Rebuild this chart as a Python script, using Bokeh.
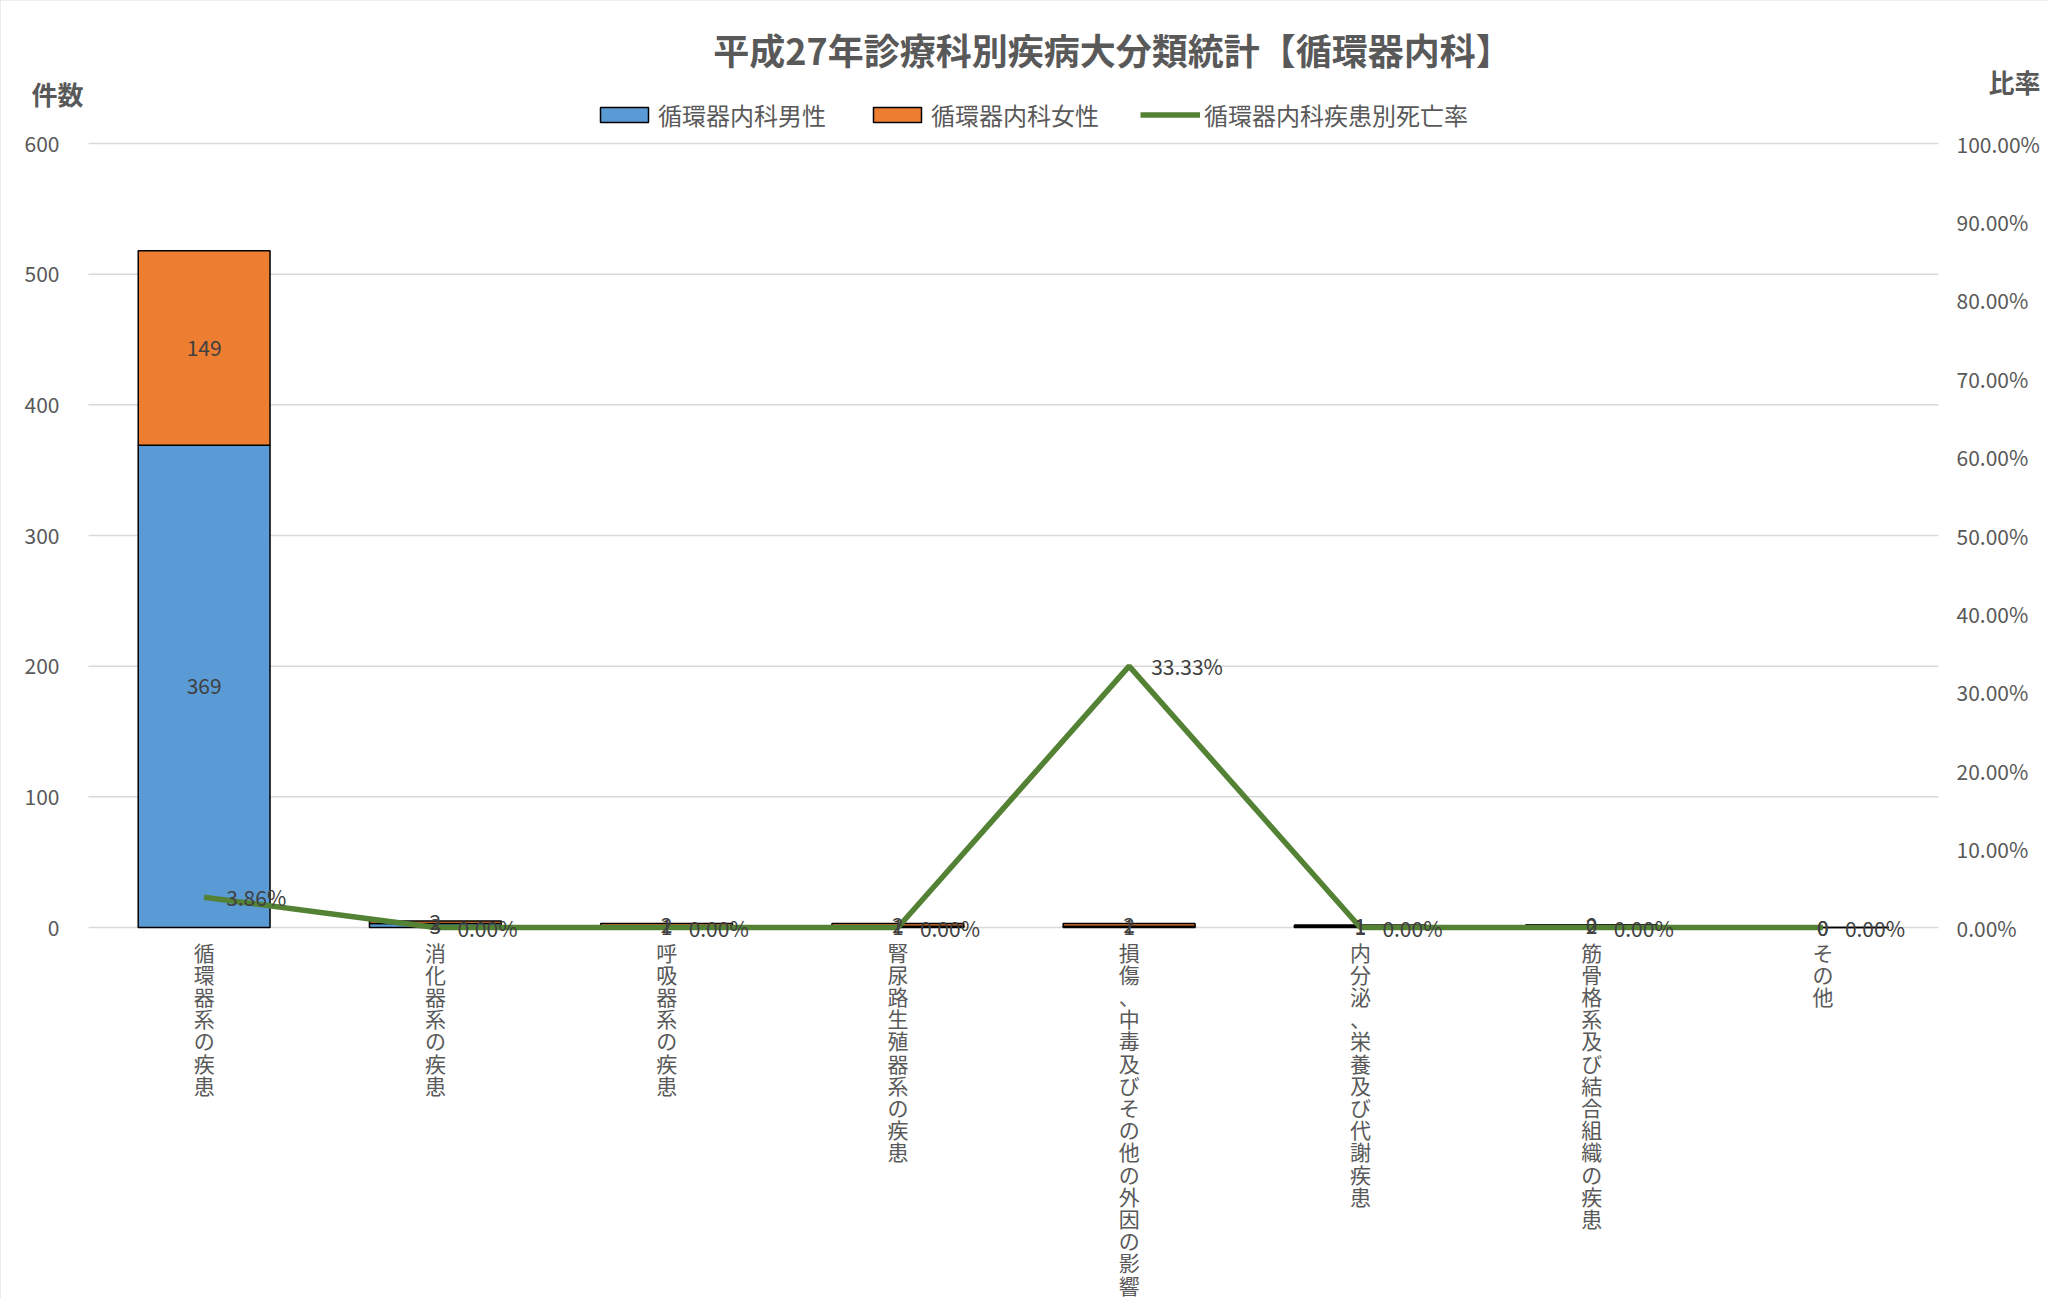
from bokeh.plotting import figure
from bokeh.models import (ColumnDataSource, Range1d, LabelSet, Label, Legend, LegendItem)
from bokeh.embed import file_html
from bokeh.resources import INLINE
from bokeh.core.properties import value

title_text = "平成27年診療科別疾病大分類統計【循環器内科】"
categories = ["循環器系の疾患", "消化器系の疾患", "呼吸器系の疾患", "腎尿路生殖器系の疾患",
              "損傷、中毒及びその他の外因の影響", "内分泌、栄養及び代謝疾患",
              "筋骨格系及び結合組織の疾患", "その他"]
male = [369, 3, 1, 1, 1, 1, 2, 0]
female = [149, 2, 2, 2, 2, 1, 0, 0]
rate = [0.0386, 0.0, 0.0, 0.0, 0.3333, 0.0, 0.0, 0.0]
series_names = ["循環器内科男性", "循環器内科女性", "循環器内科疾患別死亡率"]
left_ticks = [0, 100, 200, 300, 400, 500, 600]
right_ticks = [0.0, 0.1, 0.2, 0.3, 0.4, 0.5, 0.6, 0.7, 0.8, 0.9, 1.0]
left_axis_name = "件数"
right_axis_name = "比率"

FONT = "Noto Sans CJK JP"
GREY = "#595959"
W, H = 2048, 1298
# plot-area edges in figure pixels (the frame itself spans the whole canvas)
FL, FT, FR, FB = 88, 143, 1938, 927
n = len(categories)
YMAX = left_ticks[-1]
PX = (FR - FL) / n
PY = (FB - FT) / YMAX
x0, x1 = -0.5 - FL / PX, n - 0.5 + (W - FR) / PX
y0, y1 = -(H - FB) / PY, YMAX + FT / PY
rscale = right_ticks[-1] / YMAX

def dx(px):
    return -0.5 + (px - FL) / PX

def dy(py):
    return (FB - py) / PY

xs = list(range(n))
src = ColumnDataSource(dict(
    x=xs, male=male, female=female, rate=rate,
    male_mid=[m / 2 for m in male],
    female_mid=[m + f / 2 for m, f in zip(male, female)],
    male_lbl=[str(v) for v in male], female_lbl=[str(v) for v in female],
    rate_lbl=[f"{r*100:.2f}%" for r in rate],
    cat_v=["\n".join(c) for c in categories],
    cat_y=[dy(FB + 9)] * n,
))
lt = ColumnDataSource(dict(y=left_ticks, x=[-0.5] * len(left_ticks),
                           xe=[n - 0.5] * len(left_ticks),
                           lbl=[str(t) for t in left_ticks]))
rt = ColumnDataSource(dict(y=right_ticks, x=[n - 0.5] * len(right_ticks),
                           lbl=[f"{t*100:.2f}%" for t in right_ticks]))

p = figure(x_range=Range1d(x0, x1), y_range=Range1d(y0, y1), width=W, height=H,
           output_backend="svg", toolbar_location=None,
           x_axis_location=None, y_axis_location=None,
           min_border=0, min_border_left=0, min_border_right=0,
           min_border_top=0, min_border_bottom=0,
           styles={"outline": "1px solid #d9d9d9", "outline-offset": "-1px"})
p.extra_y_ranges = {"rate": Range1d(y0 * rscale, y1 * rscale)}
p.outline_line_color = None
p.background_fill_color = "white"
p.border_fill_color = "white"
p.xgrid.visible = False
p.ygrid.visible = False

# gridlines at the left-axis ticks
p.segment(x0="x", x1="xe", y0="y", y1="y", source=lt, line_color="#d9d9d9", line_width=1.5)

bars = p.vbar_stack(["male", "female"], x="x", width=0.57, source=src,
                    color=["#5B9BD5", "#ED7D31"], line_color="black", line_width=1.5)
ln = p.line(x="x", y="rate", source=src, y_range_name="rate",
            line_color="#548235", line_width=5.5)

for ycol, tcol in [("male_mid", "male_lbl"), ("female_mid", "female_lbl")]:
    p.add_layout(LabelSet(x="x", y=ycol, text=tcol, source=src,
                          text_align="center", text_baseline="middle",
                          text_font=value(FONT), text_font_size="21px",
                          text_color="#404040"))
p.add_layout(LabelSet(x="x", y="rate", text="rate_lbl", source=src, y_range_name="rate",
                      x_offset=22, text_align="left", text_baseline="middle",
                      text_font=value(FONT), text_font_size="21px", text_color="#404040"))

# axis tick labels
p.add_layout(LabelSet(x="x", y="y", text="lbl", source=lt, x_offset=-29,
                      text_align="right", text_baseline="middle",
                      text_font=value(FONT), text_font_size="21px", text_color=GREY))
p.add_layout(LabelSet(x="x", y="y", text="lbl", source=rt, y_range_name="rate", x_offset=18,
                      text_align="left", text_baseline="middle",
                      text_font=value(FONT), text_font_size="21px", text_color=GREY))

# category labels, stacked vertically
p.text(x="x", y="cat_y", text="cat_v", source=src, text_align="center",
       text_baseline="top", text_line_height=0.74, text_font=value(FONT),
       text_font_size="21px", text_color=GREY)

legend_h = 32
legend = Legend(items=[LegendItem(label=series_names[0], renderers=[bars[0]]),
                       LegendItem(label=series_names[1], renderers=[bars[1]]),
                       LegendItem(label=series_names[2], renderers=[ln])],
                orientation="horizontal",
                location=(594, H - 116 - legend_h // 2),
                glyph_width=60, glyph_height=19, label_standoff=4, spacing=41,
                padding=0, margin=0, border_line_color=None, background_fill_alpha=0,
                label_text_font=FONT, label_text_font_size="24px",
                label_text_color=GREY)
p.add_layout(legend, "center")

def add_label(px, py, text, size, align="center"):
    p.add_layout(Label(x=dx(px), y=dy(py), text=text,
                       text_align=align, text_baseline="middle", text_font=FONT,
                       text_font_size=size, text_color=GREY, text_font_style="bold"))

add_label(1112, 48, title_text, "36px")
add_label(31, 93, left_axis_name, "26px", align="left")
add_label(2040, 81, right_axis_name, "26px", align="right")

open("out.html", "w").write(file_html(p, INLINE))
